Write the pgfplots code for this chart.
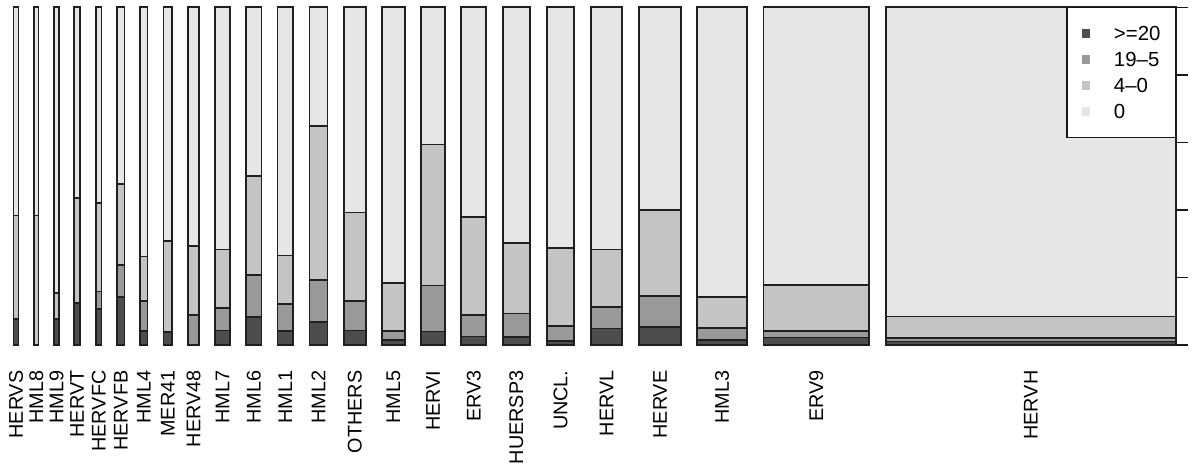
\documentclass[border=0pt]{standalone}
\usepackage{fontspec}
\setmainfont{Liberation Sans}
\usepackage{pgfplots}
\usepackage{pgfplotstable}
\pgfplotsset{compat=1.18}

\definecolor{gA}{HTML}{4D4D4D}
\definecolor{gB}{HTML}{999999}
\definecolor{gC}{HTML}{C4C4C4}
\definecolor{gD}{HTML}{E6E6E6}

% x = bar edges (px of the original), a..d = cumulative shares
% a: >=20, b: +19-5, c: +4-0, d: +0
\pgfplotstableread{
x      a     b     c     d
13.5   0.077 0.077 0.383 1
18.5   0.077 0.077 0.383 1
18.5   nan   nan   nan   nan
34.3   0     0     0.383 1
38.5   0     0     0.383 1
38.5   nan   nan   nan   nan
54.3   0.077 0.077 0.153 1
58.7   0.077 0.077 0.153 1
58.7   nan   nan   nan   nan
74.3   0.125 0.125 0.436 1
79.7   0.125 0.125 0.436 1
79.7   nan   nan   nan   nan
96.0   0.106 0.158 0.421 1
101.5  0.106 0.158 0.421 1
101.5  nan   nan   nan   nan
117.3  0.143 0.237 0.477 1
124.5  0.143 0.237 0.477 1
124.5  nan   nan   nan   nan
140.3  0.042 0.130 0.262 1
147.5  0.042 0.130 0.262 1
147.5  nan   nan   nan   nan
163.5  0.038 0.038 0.308 1
172.0  0.038 0.038 0.308 1
172.0  nan   nan   nan   nan
188.0  0     0.088 0.293 1
199.0  0     0.088 0.293 1
199.0  nan   nan   nan   nan
215.3  0.043 0.109 0.283 1
229.7  0.043 0.109 0.283 1
229.7  nan   nan   nan   nan
246.0  0.083 0.208 0.501 1
261.5  0.083 0.208 0.501 1
261.5  nan   nan   nan   nan
277.5  0.041 0.122 0.265 1
293.0  0.041 0.122 0.265 1
293.0  nan   nan   nan   nan
309.5  0.069 0.192 0.649 1
327.5  0.069 0.192 0.649 1
327.5  nan   nan   nan   nan
344.0  0.043 0.130 0.392 1
365.7  0.043 0.130 0.392 1
365.7  nan   nan   nan   nan
382.0  0.014 0.041 0.183 1
404.7  0.014 0.041 0.183 1
404.7  nan   nan   nan   nan
421.3  0.040 0.176 0.594 1
444.7  0.040 0.176 0.594 1
444.7  nan   nan   nan   nan
461.3  0.025 0.089 0.380 1
486.3  0.025 0.089 0.380 1
486.3  nan   nan   nan   nan
503.0  0.023 0.093 0.302 1
529.7  0.023 0.093 0.302 1
529.7  nan   nan   nan   nan
547.0  0.011 0.057 0.287 1
574.3  0.011 0.057 0.287 1
574.3  nan   nan   nan   nan
591.0  0.049 0.112 0.283 1
622.3  0.049 0.112 0.283 1
622.3  nan   nan   nan   nan
639.0  0.053 0.146 0.400 1
681.0  0.053 0.146 0.400 1
681.0  nan   nan   nan   nan
697.0  0.014 0.050 0.142 1
747.3  0.014 0.050 0.142 1
747.3  nan   nan   nan   nan
763.5  0.022 0.042 0.177 1
869.3  0.022 0.042 0.177 1
869.3  nan   nan   nan   nan
886.0  0.010 0.020 0.084 1
1175.7 0.010 0.020 0.084 1
}\bars

\pgfplotsset{
  seg/.style={ybar interval, draw=black!88, line width=0.85pt, fill=#1,
    legend image code/.code={\fill[##1, draw=none] (0pt,-2.2pt) rectangle (4.4pt,2.2pt);}},
}

\begin{document}
\begin{tikzpicture}
\begin{axis}[
    scale only axis,
    width=581.1pt, height=168.85pt,
    xmin=13.5, xmax=1175.7,
    ymin=0, ymax=1,
    clip=false,
    unbounded coords=jump,
    axis x line*=bottom,
    axis y line*=right,
    x axis line style={draw=none},
    y axis line style={-, black!90, line width=0.7pt},
    xtick={16,36.4,56.5,77,98.75,120.9,143.9,167.75,193.5,222.5,253.75,285.25,318.5,354.85,393.35,433,473.8,516.35,560.65,606.65,660,722.15,816.4,1030.85},
    xticklabels={HERVS,HML8,HML9,HERVT,HERVFC,HERVFB,HML4,MER41,HERV48,HML7,HML6,HML1,HML2,OTHERS,HML5,HERVI,ERV3,HUERSP3,UNCL.,HERVL,HERVE,HML3,ERV9,HERVH},
    x tick style={draw=none},
    xticklabel style={rotate=90, anchor=east, inner sep=0pt, font=\fontsize{9.9}{12}\selectfont},
    xticklabel shift=12.6pt,
    ytick={0,0.2,0.4,0.6,0.8,1},
    yticklabels={},
    ytick align=outside,
    y tick style={black!90, line width=0.7pt},
    major tick length=6.3pt,
    reverse legend,
    legend style={at={(rel axis cs:1,1)}, anchor=north east,
      draw=black!90, line width=0.6pt, fill=white,
      inner xsep=7.3pt, inner ysep=9pt, row sep=5pt, column sep=11.8pt,
      nodes={inner sep=0pt, text height=7.3pt, text depth=0.7pt},
      font=\fontsize{10.2}{12}\selectfont},
    legend cell align=left,
]
\addplot[seg=gD] table[x=x, y=d] {\bars};
\addplot[seg=gC] table[x=x, y=c] {\bars};
\addplot[seg=gB] table[x=x, y=b] {\bars};
\addplot[seg=gA] table[x=x, y=a] {\bars};
\legend{0, 4--0, 19--5, >=20}
\coordinate (BL) at (axis cs:0,-0.3583);
\coordinate (TR) at (axis cs:1200,1.0216);
\end{axis}
\pgfresetboundingbox
\path[use as bounding box] (BL) rectangle (TR);
\end{tikzpicture}
\end{document}
